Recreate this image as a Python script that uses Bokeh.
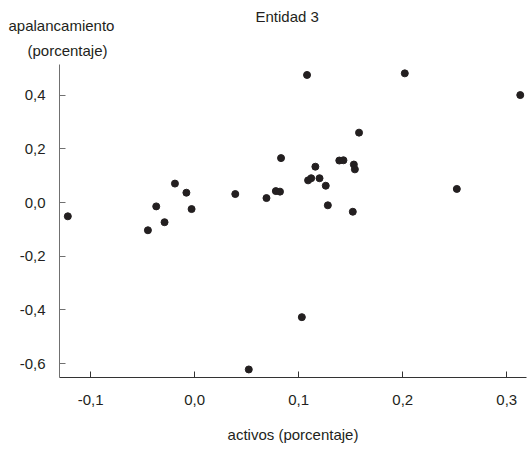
from bokeh.plotting import figure
from bokeh.models import FixedTicker, CustomJSTickFormatter, Range1d, Title
from bokeh.embed import file_html
from bokeh.resources import INLINE

# Entidad 3: activos vs. apalancamiento (porcentaje)
activos = [
    0.108, 0.202, 0.313,
    -0.122, -0.045, -0.037, -0.029, -0.019, -0.008, -0.003, 0.039, 0.069,
    0.083, 0.078, 0.082, 0.116, 0.109, 0.112, 0.120, 0.126, 0.128,
    0.139, 0.143, 0.153, 0.154, 0.158, 0.152, 0.252,
    0.052, 0.103,
]
apalancamiento = [
    0.476, 0.482, 0.401,
    -0.051, -0.103, -0.014, -0.073, 0.071, 0.037, -0.024, 0.032, 0.017,
    0.166, 0.043, 0.041, 0.134, 0.083, 0.091, 0.091, 0.063, -0.010,
    0.157, 0.158, 0.142, 0.124, 0.261, -0.034, 0.051,
    -0.622, -0.427,
]
x_ticks = [-0.1, 0.0, 0.1, 0.2, 0.3]
y_ticks = [-0.6, -0.4, -0.2, 0.0, 0.2, 0.4]

FONT = "Liberation Sans"
INK = "#231f20"

p = figure(
    width=527, height=451,
    x_range=Range1d(-0.130, 0.319), y_range=Range1d(-0.652, 0.515),
    output_backend="svg", toolbar_location=None,
    min_border_left=59, min_border_right=1, min_border_top=64, min_border_bottom=74,
)
p.outline_line_color = None
p.grid.grid_line_color = None
p.background_fill_color = "white"
p.border_fill_color = "white"

p.scatter(activos, apalancamiento, size=7, color=INK)

fmt = CustomJSTickFormatter(code="return tick.toFixed(1).replace('.', ',');")

xa = p.xaxis[0]
xa.ticker = FixedTicker(ticks=x_ticks)
xa.formatter = fmt
xa.axis_line_color = "#333333"
xa.major_tick_line_color = "#333333"
xa.major_tick_in = 6
xa.major_tick_out = 0
xa.minor_tick_line_color = None
xa.major_label_standoff = 17
xa.major_label_text_font = FONT
xa.major_label_text_font_size = "15px"
xa.major_label_text_color = INK
xa.axis_label = "activos (porcentaje)"
xa.axis_label_text_font = FONT
xa.axis_label_text_font_size = "15px"
xa.axis_label_text_font_style = "normal"
xa.axis_label_text_color = INK
xa.axis_label_standoff = 18

ya = p.yaxis[0]
ya.ticker = FixedTicker(ticks=y_ticks)
ya.formatter = fmt
ya.axis_line_color = "#707070"
ya.major_tick_line_color = "#707070"
ya.major_tick_in = 6
ya.major_tick_out = 0
ya.minor_tick_line_color = None
ya.major_label_standoff = 14
ya.major_label_text_font = FONT
ya.major_label_text_font_size = "15px"
ya.major_label_text_color = INK

# stacked above the frame, nearest first: caption lines, then the chart title
for txt, off, gap in [("(porcentaje)", -32, 11),
                      ("apalancamiento", -51, 1),
                      ("Entidad 3", 196, -21)]:
    p.add_layout(Title(text=txt, align="left", offset=off, standoff=gap,
                       vertical_align="bottom",
                       text_font=FONT, text_font_size="15px",
                       text_font_style="normal", text_color=INK), "above")

open("out.html", "w").write(file_html(p, INLINE))
